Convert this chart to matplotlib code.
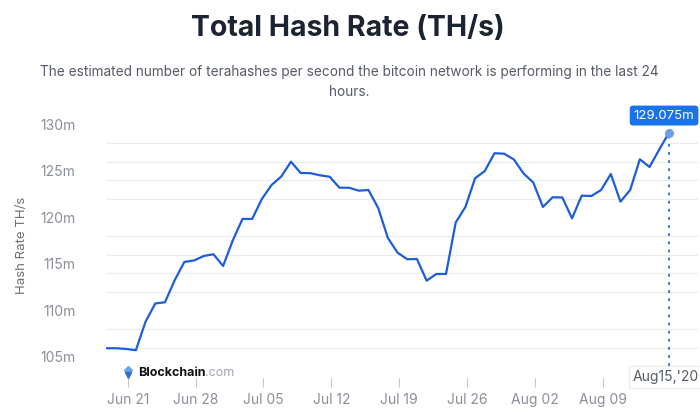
import numpy as np
import pandas as pd
import matplotlib
matplotlib.use("Agg")
import matplotlib.pyplot as plt
import matplotlib.dates as mdates

plt.rcParams["font.family"] = ["Inter", "DejaVu Sans"]

# Daily hash rate readings (millions of TH/s), one per day, last one = Aug 15 '20
first_day = "2020-06-18 20:00"
hash_rate = [105.94, 105.94, 105.86, 105.73, 108.80, 110.75, 110.88, 113.24, 115.21, 115.37,
             115.85, 116.04, 114.78, 117.53, 119.83, 119.83, 121.98, 123.48, 124.39, 125.98,
             124.77, 124.75, 124.52, 124.36, 123.19, 123.18, 122.87, 122.94, 121.01, 117.79,
             116.21, 115.50, 115.53, 113.20, 113.92, 113.92, 119.45, 121.12, 124.20, 124.98,
             126.89, 126.84, 126.22, 124.72, 123.75, 121.12, 122.16, 122.14, 119.90, 122.33,
             122.30, 122.94, 124.66, 121.69, 122.94, 126.24, 125.41, 127.29, 129.075]

tick_days = ["2020-06-21", "2020-06-28", "2020-07-05", "2020-07-12",
             "2020-07-19", "2020-07-26", "2020-08-02", "2020-08-09"]
tick_labels = ["Jun 21", "Jun 28", "Jul 05", "Jul 12", "Jul 19", "Jul 26", "Aug 02", "Aug 09"]
y_labels = [105, 110, 115, 120, 125, 130]
y_grid = np.arange(104, 131, 2)

LINE_BLUE = "#1d5ed8"
TIP_BLUE = "#1a73e8"
W, H = 700, 413

dates = pd.date_range(first_day, periods=len(hash_rate), freq="D")

fig = plt.figure(figsize=(W / 100, H / 100), dpi=100)
fig.patch.set_facecolor("white")
ax = fig.add_axes([106 / W, (H - 366.3) / H, (698 - 106) / W, (366.3 - 124.3) / H])

ax.plot(dates, hash_rate, color=LINE_BLUE, linewidth=1.6, solid_joinstyle="round",
        solid_capstyle="round", zorder=3)

# last value marker, dotted drop line and tooltips
last_x, last_y = dates[-1], hash_rate[-1]
ax.vlines(last_x, 104, last_y, colors=TIP_BLUE, linestyles=(0, (1.5, 3)),
          linewidth=1.3, zorder=2)
ax.plot(last_x, last_y, "o", color="#6d9eeb", markersize=5.5, zorder=4)
ax.annotate(f"{last_y:.3f}m", xy=(last_x, last_y), xytext=(-3.5, 12.5),
            textcoords="offset points", ha="center", va="center", color="white",
            fontsize=9.5, annotation_clip=False, zorder=5,
            bbox=dict(boxstyle="round,pad=0.3,rounding_size=0.25", fc=TIP_BLUE, ec="none"))
ax.annotate(last_x.strftime("%b%d,'%y"), xy=(last_x, 104), xytext=(-2, -7.5),
            textcoords="offset points", ha="center", va="center", color="#555b66",
            fontsize=10, annotation_clip=False, zorder=5,
            bbox=dict(boxstyle="square,pad=0.3", fc="white", ec="#ececec", lw=0.8))

ax.set_ylim(104, 130)
ax.set_xlim(dates[0] - pd.Timedelta(hours=2), dates[-1] + pd.Timedelta(days=3))

ax.set_yticks(y_grid, minor=True)
ax.set_yticks(y_labels)
ax.set_yticklabels([f"{v}m" for v in y_labels])
ax.grid(which="minor", axis="y", color="#ececec", linewidth=0.8)
ax.tick_params(axis="y", which="both", length=0, pad=22, labelsize=10, labelcolor="#8a8f98")

ax.set_xticks(pd.to_datetime(tick_days))
ax.set_xticklabels(tick_labels)
ax.tick_params(axis="x", length=6.5, width=0.8, color="#c8c8c8", pad=4,
               labelsize=10, labelcolor="#8a8f98")
ax.spines["bottom"].set_position(("outward", 8.5))
for side in ["top", "right", "left", "bottom"]:
    ax.spines[side].set_visible(False)

# titles
fig.text(348 / W, 1 - 29 / H, "Total Hash Rate (TH/s)", ha="center", va="center",
         fontsize=20.5, fontweight="bold", color="#1c2333")
fig.text(349 / W, 1 - 82 / H,
         "The estimated number of terahashes per second the bitcoin network is performing in the last 24\nhours.",
         ha="center", va="center", multialignment="center", fontsize=9.8,
         color="#555b66", linespacing=1.5)
fig.text(21.7 / W, 1 - 245 / H, "Hash Rate TH/s", rotation=90, ha="center", va="center",
         fontsize=9.5, color="#6b707a")

# watermark
ax.plot([128 / W], [1 - 370 / H], marker="D", markersize=4.5, color="#6aa2ea",
        transform=fig.transFigure, clip_on=False)
ax.plot([128 / W], [1 - 375 / H], marker="v", markersize=4.5, color="#2f6fd1",
        transform=fig.transFigure, clip_on=False)
brand = fig.text(138 / W, 1 - 373 / H, "Blockchain", ha="left", va="center",
                 fontsize=9, fontweight="bold", color="#111111")
ax.annotate(".com", xy=(1, 0.5), xycoords=brand, ha="left", va="center",
            fontsize=9, color="#a0a4ab")

fig.savefig("out.png", dpi=100)
